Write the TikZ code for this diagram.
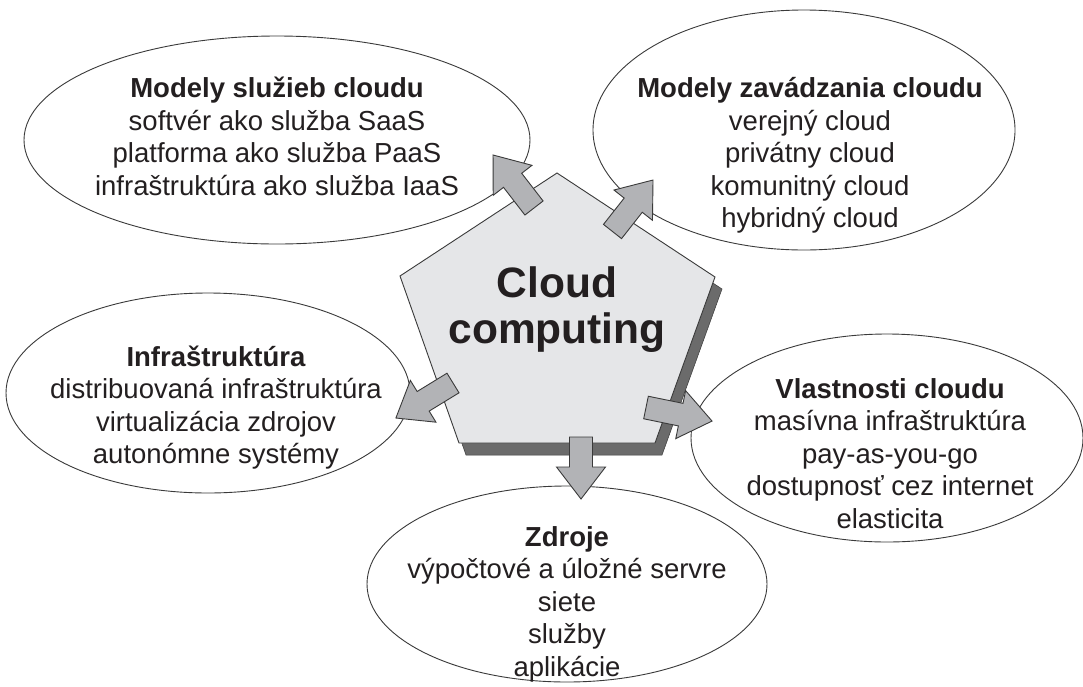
\documentclass[tikz,border=0pt]{standalone}
\usepackage{fontspec}
\setmainfont{Liberation Sans}
\usetikzlibrary{shapes.geometric}

\definecolor{ink}{HTML}{231F20}
\definecolor{rim}{HTML}{3A3A3A}
\definecolor{facefill}{HTML}{E5E6E8}
\definecolor{shadowfill}{HTML}{6B6B6B}
\definecolor{arrowfill}{HTML}{B2B3B6}

\tikzset{
  bubble/.style={ellipse, draw=rim, line width=0.9pt, fill=white,
    inner sep=0pt, outer sep=0pt},
  % multi-line nodes: the base anchor sits on the last line
  bubbletext/.style={align=center, inner sep=0pt, text=ink, anchor=base,
    font=\fontsize{27.5}{32.5}\selectfont},
  coretext/.style={align=center, inner sep=0pt, text=ink, anchor=base,
    font=\fontsize{42.5}{46}\selectfont\bfseries},
  face/.style={fill=facefill, draw=rim, line width=0.9pt, line join=miter},
  dropshadow/.style={fill=shadowfill, draw=rim, line width=0.5pt},
  blockarrow/.style={fill=arrowfill, draw=rim, line width=0.9pt, line join=miter},
}

% block arrow: tail centre x, tail centre y, direction (deg), total length
\newcommand\flowarrow[4]{%
  \begin{scope}[shift={(#1,#2)}, rotate=#3]
    \draw[blockarrow] (0pt,-11.5pt) -- ({(#4-32)*1pt},-11.5pt)
      -- ({(#4-32)*1pt},-24.5pt) -- ({#4*1pt},0pt)
      -- ({(#4-32)*1pt},24.5pt) -- ({(#4-32)*1pt},11.5pt)
      -- (0pt,11.5pt) -- cycle;
  \end{scope}}

\begin{document}
\begin{tikzpicture}[x=1pt, y=-1pt]
  \useasboundingbox (0,0) rectangle (1083,686);
  \fill[white] (0,0) rectangle (1083,686);

  % surrounding topics
  \node[bubble, minimum width=506pt, minimum height=208pt] (e1) at (277,140) {};
  \node[bubble, minimum width=422pt, minimum height=240pt] (e2) at (804,130) {};
  \node[bubble, minimum width=404pt, minimum height=200pt] (e3) at (208,393) {};
  \node[bubble, minimum width=392pt, minimum height=208pt] (e4) at (887,438) {};
  \node[bubble, minimum width=400pt, minimum height=196pt] (e5) at (567,584) {};

  \node[bubbletext] (t1) at (277,195) {\textbf{Modely služieb cloudu}\\
    softvér ako služba SaaS\\platforma ako služba PaaS\\
    infraštruktúra ako služba IaaS};
  \node[bubbletext] (t2) at (810,227.5) {\textbf{Modely zavádzania cloudu}\\
    verejný cloud\\privátny cloud\\komunitný cloud\\hybridný cloud};
  \node[bubbletext] (t3) at (216,463.5) {\textbf{Infraštruktúra}\\
    distribuovaná infraštruktúra\\virtualizácia zdrojov\\autonómne systémy};
  \node[bubbletext] (t4) at (890,528) {\textbf{Vlastnosti cloudu}\\
    masívna infraštruktúra\\pay-as-you-go\\dostupnosť cez internet\\elasticita};
  \node[bubbletext] (t5) at (567,676) {\textbf{Zdroje}\\
    výpočtové a úložné servre\\siete\\služby\\aplikácie};

  % central pentagon with its shadow
  \coordinate (p1) at (557,173);
  \coordinate (p2) at (715,277);
  \coordinate (p3) at (655,443);
  \coordinate (p4) at (459,443);
  \coordinate (p5) at (400,276);
  \draw[dropshadow] ([shift={(7,12)}]p1) -- ([shift={(7,12)}]p2)
    -- ([shift={(7,12)}]p3) -- ([shift={(7,12)}]p4)
    -- ([shift={(7,12)}]p5) -- cycle;
  \draw[face] (p1) -- (p2) -- (p3) -- (p4) -- (p5) -- cycle;
  \node[coretext] (core) at (557,343) {Cloud\\computing};

  % arrows from the centre out to each topic
  \flowarrow{534}{208}{127.7}{67}
  \flowarrow{612.5}{231.5}{51.8}{65.5}
  \flowarrow{453}{383}{211.5}{67}
  \flowarrow{646}{407.5}{-11.6}{67.4}
  \flowarrow{581}{437}{-90}{62}
\end{tikzpicture}
\end{document}
